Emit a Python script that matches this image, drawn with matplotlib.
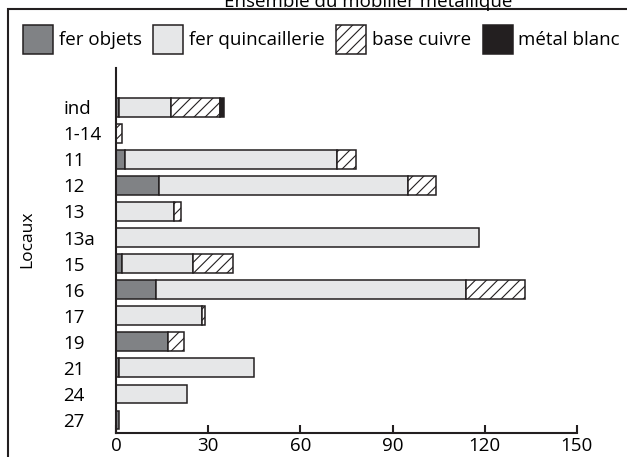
import matplotlib
matplotlib.use('Agg')
import matplotlib.pyplot as plt
from matplotlib.patches import Rectangle, Patch
import numpy as np

# data
locaux = ['ind', '1-14', '11', '12', '13', '13a', '15', '16', '17', '19', '21', '24', '27']
fer_objets = [1, 0, 3, 14, 0, 0, 2, 13, 0, 17, 1, 0, 1]
fer_quincaillerie = [17, 0, 69, 81, 19, 118, 23, 101, 28, 0, 44, 23, 0]
base_cuivre = [16, 2, 6, 9, 2, 0, 13, 19, 1, 5, 0, 0, 0]
metal_blanc = [1, 0, 0, 0, 0, 0, 0, 0, 0, 0, 0, 0, 0]
xticks = [0, 30, 60, 90, 120, 150]

plt.rcParams['font.family'] = ['Open Sans', 'DejaVu Sans']
plt.rcParams['font.size'] = 13.5
plt.rcParams['hatch.linewidth'] = 0.8
plt.rcParams['hatch.color'] = '#231f20'

dark = '#231f20'
fig = plt.figure(figsize=(6.27, 4.57), dpi=100)
ax = fig.add_axes([0.185, 0.0525, 0.735, 0.7985])

y = np.arange(len(locaux))[::-1]
series = [
    ('fer objets', fer_objets, '#808285', ''),
    ('fer quincaillerie', fer_quincaillerie, '#e6e7e8', ''),
    ('base cuivre', base_cuivre, 'white', '///'),
    ('métal blanc', metal_blanc, dark, ''),
]
left = np.zeros(len(locaux))
handles = []
for name, vals, col, hatch in series:
    vals = np.array(vals, dtype=float)
    mask = vals > 0
    ax.barh(y[mask], vals[mask], left=left[mask], height=0.72, color=col,
            edgecolor=dark, linewidth=1.1, hatch=hatch)
    left += vals
    handles.append(Patch(facecolor=col, edgecolor=dark, linewidth=1.1, hatch=hatch, label=name))

ax.set_xlim(0, 150)
ax.set_ylim(-0.5, 13.5)
ax.set_xticks(xticks)
ax.set_yticks(y)
ax.set_yticklabels(locaux, ha='left')
ax.tick_params(axis='y', length=0, pad=38)
ax.tick_params(axis='x', direction='in', length=6, width=1.5, color=dark, pad=3)
for s in ['top', 'right']:
    ax.spines[s].set_visible(False)
for s in ['left', 'bottom']:
    ax.spines[s].set_linewidth(1.5)
    ax.spines[s].set_color(dark)
ax.spines['bottom'].set_bounds(0, 150)
ax.set_ylabel('Locaux', fontsize=12.5)
ax.yaxis.set_label_coords(-0.175, 0.53)

fig.legend(handles=handles, loc='upper left', bbox_to_anchor=(0.037, 0.946), ncol=4,
           frameon=False, handlelength=1.6, handleheight=2.0, handletextpad=0.3,
           columnspacing=0.62, borderpad=0, borderaxespad=0)

fig.text(0.587, 0.985, 'Ensemble du mobilier métallique', ha='center', va='baseline')
fig.add_artist(Rectangle((8 / 627, -0.1), 1.2, 1.1 - 9 / 457, transform=fig.transFigure,
                         fill=False, edgecolor=dark, linewidth=1.5, clip_on=False))

fig.savefig('out.png', dpi=100)
